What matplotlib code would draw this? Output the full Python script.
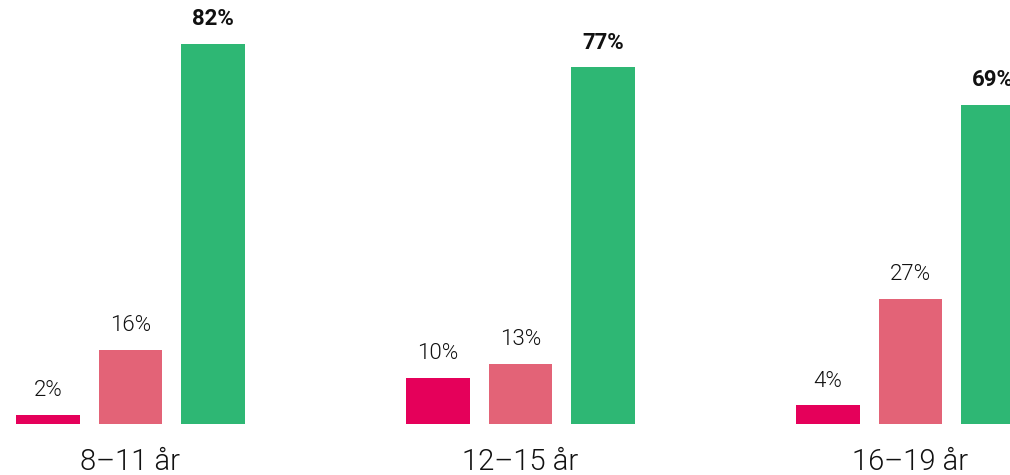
import matplotlib
matplotlib.use("Agg")
import matplotlib.pyplot as plt
import numpy as np

categories = ["8–11 år", "12–15 år", "16–19 år"]
series1 = [2, 10, 4]
series2 = [16, 13, 27]
series3 = [82, 77, 69]
colors = ["#e5005a", "#e36377", "#2eb774"]

fig = plt.figure(figsize=(10.1, 4.75), dpi=100)
ax = fig.add_axes([0, 51/475, 1, 424/475])

pitch = 82.5/390
width = 63.5/390
x = np.arange(len(categories))
for j, (vals, c) in enumerate(zip([series1, series2, series3], colors)):
    pos = x + (j-1)*pitch
    bars = ax.bar(pos, vals, width=width, color=c, edgecolor="none")
    for p, v in zip(pos, vals):
        ax.annotate(f"{v}%", (p, v), xytext=(0, 10), textcoords="offset points",
                    ha="center", va="bottom", fontsize=16,
                    fontfamily="Roboto", fontweight="bold" if j == 2 else 300,
                    color="#111111")

ax.set_xlim(-130.5/390, (1010-130.5)/390)
ax.set_ylim(0, 424/4.63)
ax.set_xticks(x)
ax.set_xticklabels(categories, fontsize=21, fontfamily="Roboto", fontweight=300, color="#111111")
ax.tick_params(axis="x", length=0, pad=17)
ax.set_yticks([])
for s in ax.spines.values():
    s.set_visible(False)

fig.savefig("out.png", dpi=100)
